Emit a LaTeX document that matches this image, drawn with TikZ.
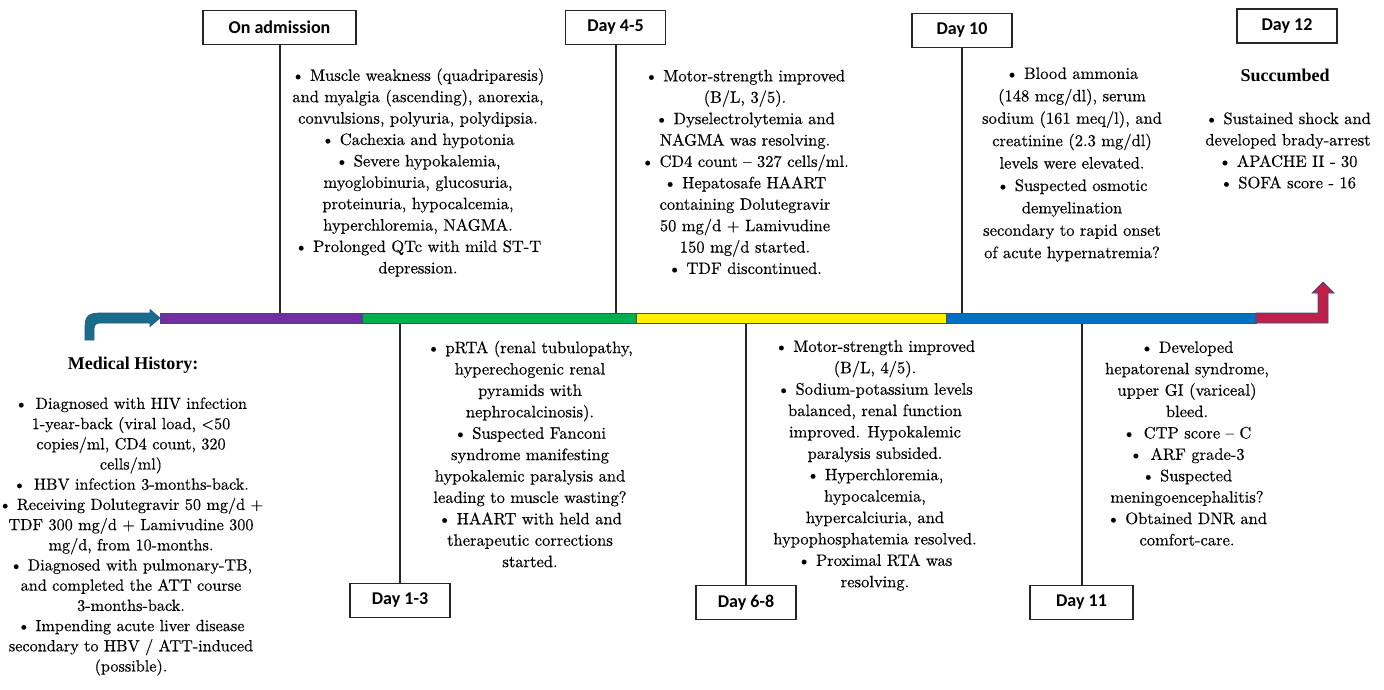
\documentclass[tikz,border=0pt]{standalone}
\usepackage{fontspec}
\newfontfamily\notefont{lmroman10-regular.otf}[UprightFeatures={FakeBold=0.4}]
\newfontfamily\headfont{LiberationSerif-Bold}
\newfontfamily\labelfont{Carlito}

\definecolor{histteal}{RGB}{24,110,138}
\definecolor{admpurple}{RGB}{112,48,160}
\definecolor{daygreen}{RGB}{0,176,80}
\definecolor{dayyellow}{RGB}{255,240,0}
\definecolor{dayblue}{RGB}{0,112,192}
\definecolor{dayred}{RGB}{192,32,72}
\definecolor{rimblue}{RGB}{47,82,143}

\tikzset{
  daybox/.style={draw=black!85, line width=1.8pt, fill=white, minimum width=100pt,
    minimum height=34pt, inner sep=0pt, font=\labelfont\bfseries\fontsize{18}{20}\selectfont},
  stem/.style={line width=2pt, black!85},
  notes/.style={align=center, inner sep=0pt, font=\notefont\fontsize{16.5}{21.4}\selectfont},
  heading/.style={inner sep=0pt, font=\headfont\fontsize{18}{21}\selectfont},
  band/.style={draw=rimblue, line width=0.7pt},
}

\begin{document}
\begin{tikzpicture}[x=1pt, y=-1pt]
\useasboundingbox (0,0) rectangle (1384,690);

% day boxes
\node[daybox, minimum width=153pt] (admit) at (279.5,27.5) {On admission};
\node[daybox] (d45) at (615.5,27.5) {Day 4-5};
\node[daybox] (d10) at (962,30.5) {Day 10};
\node[daybox] (d12) at (1287,26) {Day 12};
\node[daybox] (d13) at (400,600.5) {Day 1-3};
\node[daybox] (d68) at (746,602.5) {Day 6-8};
\node[daybox, minimum width=103pt] (d11) at (1081.5,602.5) {Day 11};

% stems down to the time line
\coordinate (admit-t) at (279.5,318);
\coordinate (d45-t) at (615.5,318);
\coordinate (d10-t) at (962,318);
\coordinate (d13-t) at (400,318);
\coordinate (d68-t) at (746,318);
\coordinate (d11-t) at (1081.5,318);
\draw[stem] (admit) -- (admit-t);
\draw[stem] (d45) -- (d45-t);
\draw[stem] (d10) -- (d10-t);
\draw[stem] (d13) -- (d13-t);
\draw[stem] (d68) -- (d68-t);
\draw[stem] (d11) -- (d11-t);

% time line
\fill[histteal, band] (85,340) -- (85,327) .. controls (85,316) and (89,313) .. (100,313)
  -- (150,313) -- (150,309.5) -- (160,318) -- (150,326.5) -- (150,323) -- (100,323)
  .. controls (96,323) and (94,325) .. (94,329) -- (94,340) -- cycle;
\fill[admpurple, band] (160,313) rectangle (362,323);
\fill[daygreen, band] (362,313) rectangle (636,323);
\fill[dayyellow, band] (636,313) rectangle (946,323);
\fill[dayblue, band] (946,313) rectangle (1256,323);
\fill[dayred, band] (1256,313) -- (1318,313) -- (1318,293) -- (1312,293) -- (1323,282)
  -- (1334,293) -- (1328,293) -- (1328,323) -- (1256,323) -- cycle;

% notes above the line
\node[notes] (admit-notes) at (418,172.5) {%
  • Muscle weakness (quadriparesis)\\
  and myalgia (ascending), anorexia,\\
  convulsions, polyuria, polydipsia.\\
  • Cachexia and hypotonia\\
  • Severe hypokalemia,\\
  myoglobinuria, glucosuria,\\
  proteinuria, hypocalcemia,\\
  hyperchloremia, NAGMA.\\
  • Prolonged QTc with mild ST-T\\
  depression.};
\node[notes] (d45-notes) at (745,172) {%
  • Motor-strength improved\\
  (B/L, 3/5).\\
  • Dyselectrolytemia and\\
  NAGMA was resolving.\\
  • CD4 count – 327 cells/ml.\\
  • Hepatosafe HAART\\
  containing Dolutegravir\\
  50 mg/d + Lamivudine\\
  150 mg/d started.\\
  • TDF discontinued.};
\node[notes, font=\notefont\fontsize{16.5}{22.4}\selectfont] (d10-notes) at (1072,164.5) {%
  • Blood ammonia\\
  (148 mcg/dl), serum\\
  sodium (161 meq/l), and\\
  creatinine (2.3 mg/dl)\\
  levels were elevated.\\
  • Suspected osmotic\\
  demyelination\\
  secondary to rapid onset\\
  of acute hypernatremia?};
\node[heading] (d12-head) at (1285,75) {Succumbed};
\node[notes] (d12-notes) at (1288,150.5) {%
  • Sustained shock and\\
  developed brady-arrest\\
  • APACHE II - 30\\
  • SOFA score - 16};

% notes below the line
\node[notes] (d13-notes) at (530,454) {%
  • pRTA (renal tubulopathy,\\
  hyperechogenic renal\\
  pyramids with\\
  nephrocalcinosis).\\
  • Suspected Fanconi\\
  syndrome manifesting\\
  hypokalemic paralysis and\\
  leading to muscle wasting?\\
  • HAART with held and\\
  therapeutic corrections\\
  started.};
\node[notes] (d68-notes) at (875,465.5) {%
  • Motor-strength improved\\
  (B/L, 4/5).\\
  • Sodium-potassium levels\\
  balanced, renal function\\
  improved. Hypokalemic\\
  paralysis subsided.\\
  • Hyperchloremia,\\
  hypocalcemia,\\
  hypercalciuria, and\\
  hypophosphatemia resolved.\\
  • Proximal RTA was\\
  resolving.};
\node[notes] (d11-notes) at (1187,443.5) {%
  • Developed\\
  hepatorenal syndrome,\\
  upper GI (variceal)\\
  bleed.\\
  •\enspace CTP score – C\\
  •\enspace ARF grade-3\\
  • Suspected\\
  meningoencephalitis?\\
  • Obtained DNR and\\
  comfort-care.};

% medical history
\node[heading] (hist-head) at (133,365) {Medical History:};
\node[notes, font=\notefont\fontsize{16.2}{20.2}\selectfont] (hist-notes) at (131,536.5) {%
  •\enspace Diagnosed with HIV infection\\
  1-year-back (viral load, <50\\
  copies/ml, CD4 count, 320\\
  cells/ml)\\
  •\enspace HBV infection 3-months-back.\\
  • Receiving Dolutegravir 50 mg/d +\\
  TDF 300 mg/d + Lamivudine 300\\
  mg/d, from 10-months.\\
  • Diagnosed with pulmonary-TB,\\
  and completed the ATT course\\
  3-months-back.\\
  • Impending acute liver disease\\
  secondary to HBV / ATT-induced\\
  (possible).};
\end{tikzpicture}
\end{document}
